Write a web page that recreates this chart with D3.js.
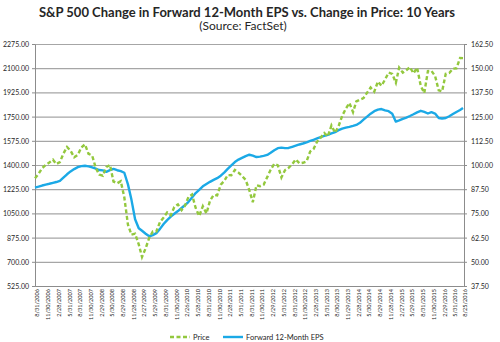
<!DOCTYPE html>
<meta charset="utf-8">
<style>
body { margin: 0; background: #fff; }
svg text { font-family: Lato, "Open Sans", sans-serif; fill: #262626; }
.title { font-size: 13px; font-weight: bold; }
.subtitle { font-size: 12px; }
.axis text { font-size: 7px; }
.xaxis text { font-size: 5.6px; }
.axis path, .axis line { stroke: #8c8c8c; }
.grid line { stroke: #a6a6a6; stroke-width: 1.2; }
.grid path { display: none; }
.legend text { font-size: 7.5px; }
</style>
<body>
<script src="https://d3js.org/d3.v7.min.js"></script>
<script>

// S&P 500 month-end closes, Aug 2006 .. Jul 2016, plus 8/25/2016
var price = [
  1303.8, 1335.9, 1377.9, 1400.6, 1418.3,
  1438.2, 1406.8, 1420.9, 1482.4, 1530.6, 1503.4, 1455.3, 1473.9, 1526.8, 1549.4, 1481.1, 1468.4,
  1378.6, 1330.6, 1322.7, 1385.6, 1400.4, 1280.0, 1267.4, 1282.8, 1166.4, 968.8, 896.2, 903.3,
  825.9, 735.1, 797.9, 872.8, 919.1, 919.3, 987.5, 1020.6, 1057.1, 1036.2, 1095.6, 1115.1,
  1073.9, 1104.5, 1169.4, 1186.7, 1089.4, 1030.7, 1101.6, 1049.3, 1141.2, 1183.3, 1180.6, 1257.6,
  1286.1, 1327.2, 1325.8, 1363.6, 1345.2, 1320.6, 1292.3, 1218.9, 1131.4, 1253.3, 1247.0, 1257.6,
  1312.4, 1365.7, 1408.5, 1397.9, 1310.3, 1362.2, 1379.3, 1406.6, 1440.7, 1412.2, 1416.2, 1426.2,
  1498.1, 1514.7, 1569.2, 1597.6, 1630.7, 1606.3, 1685.7, 1633.0, 1681.6, 1756.5, 1805.8, 1848.4,
  1782.6, 1859.5, 1872.3, 1883.9, 1923.6, 1960.2, 1930.7, 2003.4, 1972.3, 2018.1, 2067.6, 2058.9,
  1995.0, 2104.5, 2067.9, 2085.5, 2107.4, 2063.1, 2103.8, 1972.2, 1920.0, 2079.4, 2080.4, 2043.9,
  1940.2, 1932.2, 2059.7, 2065.3, 2096.9, 2098.9, 2173.6, 2172.5
];

// forward 12-month EPS, same dates
var eps = [
  88.3, 88.8, 89.4, 89.9, 90.3,
  90.8, 91.2, 91.8, 93.5, 95.2, 96.7, 97.9, 98.9, 99.4, 99.6, 99.3, 98.8,
  98.1, 97.4, 97.2, 96.5, 97.3, 98.0, 97.3, 96.8, 96.0, 90.0, 82.0, 72.0,
  67.3, 66.0, 64.5, 63.2, 63.8, 64.8, 67.0, 69.5, 71.5, 73.3, 74.8, 76.2,
  77.8, 79.2, 81.0, 83.2, 85.5, 87.2, 89.0, 90.2, 91.3, 92.3, 93.2, 94.5,
  96.2, 98.0, 99.8, 101.5, 102.8, 103.7, 104.6, 105.3, 104.8, 104.1, 104.3, 104.7,
  105.2, 106.3, 107.6, 108.7, 109.0, 108.7, 108.8, 109.4, 110.0, 110.6, 111.1, 111.7,
  112.4, 113.0, 113.7, 114.4, 115.0, 115.6, 116.3, 117.0, 118.0, 118.8, 119.3, 119.7,
  120.2, 120.7, 121.8, 123.4, 125.0, 126.5, 127.8, 128.6, 128.9, 128.2, 127.8, 126.5,
  122.4, 123.0, 123.8, 124.5, 125.3, 126.2, 127.2, 128.0, 127.4, 126.6, 127.3, 126.6,
  124.3, 124.0, 124.3, 125.2, 126.3, 127.4, 128.4, 129.4
];

var tickLabels = [
  "8/31/2006", "11/30/2006", "2/28/2007", "5/31/2007", "8/31/2007", "11/30/2007",
  "2/29/2008", "5/30/2008", "8/29/2008", "11/28/2008", "2/27/2009", "5/29/2009",
  "8/31/2009", "11/30/2009", "2/26/2010", "5/28/2010", "8/31/2010", "11/30/2010",
  "2/28/2011", "5/31/2011", "8/31/2011", "11/30/2011", "2/29/2012", "5/31/2012",
  "8/31/2012", "11/30/2012", "2/28/2013", "5/31/2013", "8/30/2013", "11/29/2013",
  "2/28/2014", "5/30/2014", "8/29/2014", "11/28/2014", "2/27/2015", "5/29/2015",
  "8/31/2015", "11/30/2015", "2/29/2016", "5/31/2016", "8/25/2016"
];

var priceTicks = d3.range(525, 2275.01, 175);
var epsTicks = d3.range(37.5, 162.51, 12.5);

var parse = d3.timeParse("%m/%d/%Y");

// month-end dates, last point is 8/25/2016
var dates = d3.range(price.length - 1).map(function(i) {
  return d3.timeDay.offset(d3.timeMonth.offset(new Date(2006, 8, 1), i), -1);
});
dates.push(parse("8/25/2016"));

var data = dates.map(function(d, i) { return {date: d, price: price[i], eps: eps[i]}; });

var width = 500, height = 342;
var plotLeft = 35, plotRight = 464, plotTop = 44, plotBottom = 286;

var x = d3.scaleTime()
    .domain([dates[0], dates[dates.length - 1]])
    .range([plotLeft, plotRight - 1]);

var yPrice = d3.scaleLinear().domain([525, 2275]).range([plotBottom, plotTop]);
var yEps = d3.scaleLinear().domain([37.5, 162.5]).range([plotBottom, plotTop]);

var svg = d3.select("body").append("svg")
    .attr("width", width)
    .attr("height", height);

svg.append("text")
    .attr("class", "title")
    .attr("x", 247)
    .attr("y", 16.5)
    .attr("text-anchor", "middle")
    .text("S&P 500 Change in Forward 12-Month EPS vs. Change in Price: 10 Years");

svg.append("text")
    .attr("class", "subtitle")
    .attr("x", 243)
    .attr("y", 30)
    .attr("text-anchor", "middle")
    .text("(Source: FactSet)");

// horizontal gridlines
svg.append("g")
    .attr("class", "grid")
    .attr("transform", "translate(" + plotLeft + ",0)")
    .call(d3.axisLeft(yPrice).tickValues(priceTicks).tickSize(-(plotRight - plotLeft)).tickFormat(""));

svg.append("g")
    .attr("class", "axis")
    .attr("transform", "translate(" + plotLeft + ",0)")
    .call(d3.axisLeft(yPrice).tickValues(priceTicks).tickSize(3).tickSizeOuter(0).tickFormat(d3.format(".2f")))
    .selectAll("text").attr("dy", "0.35em");

svg.append("g")
    .attr("class", "axis")
    .attr("transform", "translate(" + plotRight + ",0)")
    .call(d3.axisRight(yEps).tickValues(epsTicks).tickSize(3).tickSizeOuter(0).tickFormat(d3.format(".2f")))
    .selectAll("text").attr("dy", "0.35em").attr("x", 7);

var xAxis = svg.append("g")
    .attr("class", "axis xaxis")
    .attr("transform", "translate(0," + plotBottom + ")")
    .call(d3.axisBottom(x)
      .tickValues(tickLabels.map(parse))
      .tickSize(0)
      .tickSizeOuter(0)
      .tickFormat(d3.timeFormat("%-m/%-d/%Y")));

xAxis.selectAll("text")
    .attr("transform", "rotate(-90)")
    .attr("text-anchor", "end")
    .attr("x", -3)
    .attr("y", 2)
    .attr("dy", "0.35em");

var linePrice = d3.line()
    .x(function(d) { return x(d.date); })
    .y(function(d) { return yPrice(d.price); });

var lineEps = d3.line()
    .x(function(d) { return x(d.date); })
    .y(function(d) { return yEps(d.eps); });

svg.append("path")
    .datum(data)
    .attr("fill", "none")
    .attr("stroke", "#1ba9e6")
    .attr("stroke-width", 2.4)
    .attr("stroke-linejoin", "round")
    .attr("d", lineEps);

svg.append("path")
    .datum(data)
    .attr("fill", "none")
    .attr("stroke", "#93c83e")
    .attr("stroke-width", 2.4)
    .attr("stroke-dasharray", "4,2.5")
    .attr("d", linePrice);

// legend
var legend = svg.append("g").attr("class", "legend");
var items = [
  {name: "Price", color: "#93c83e", dash: "4,2.5", x: 170},
  {name: "Forward 12-Month EPS", color: "#1ba9e6", dash: null, x: 223}
];
items.forEach(function(it) {
  legend.append("line")
      .attr("x1", it.x).attr("x2", it.x + 20)
      .attr("y1", 337).attr("y2", 337)
      .attr("stroke", it.color)
      .attr("stroke-width", 2.4)
      .attr("stroke-dasharray", it.dash);
  legend.append("text")
      .attr("x", it.x + 23)
      .attr("y", 337)
      .attr("dy", "0.35em")
      .text(it.name);
});

</script>
</body>
